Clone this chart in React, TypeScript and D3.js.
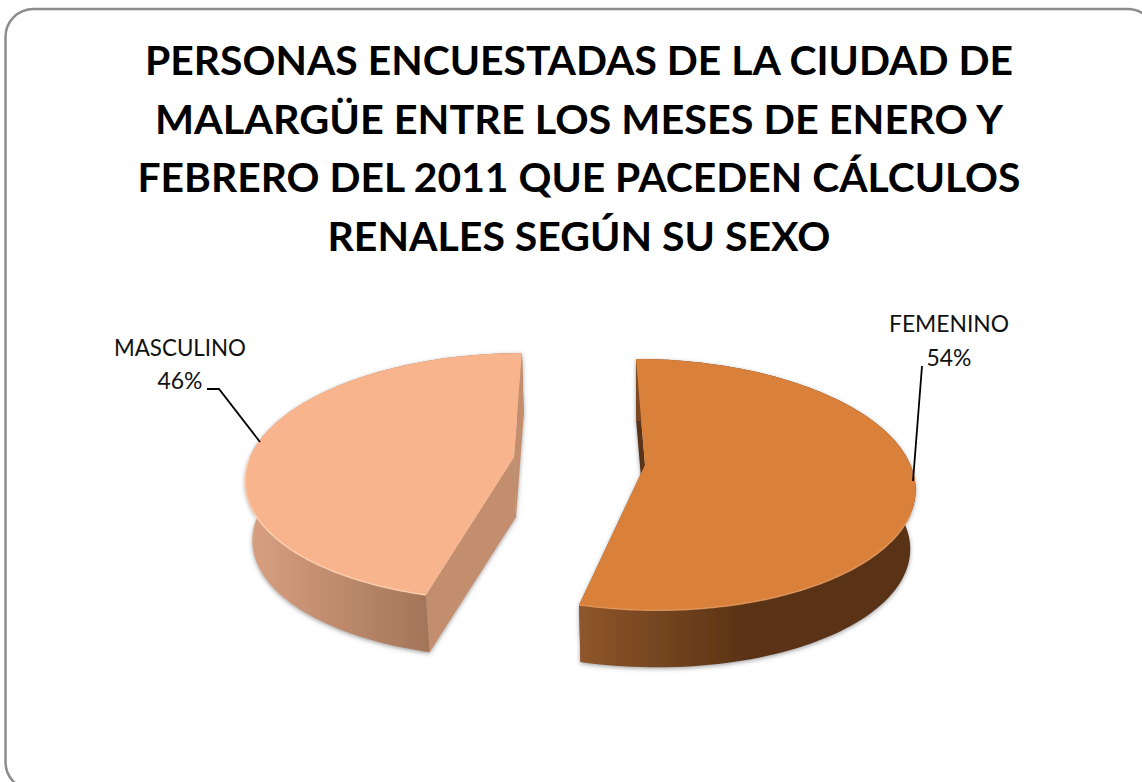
import React from "react";
import * as d3 from "d3";

const categories = ["FEMENINO", "MASCULINO"];
const percentages = [54, 46];
const titleLines = [
  "PERSONAS ENCUESTADAS DE LA CIUDAD DE",
  "MALARGÜE ENTRE LOS MESES DE ENERO Y",
  "FEBRERO DEL 2011 QUE PACEDEN CÁLCULOS",
  "RENALES SEGÚN SU SEXO",
];
const titleWidths = [868, 848, 883, 503];

const W = 1142;
const H = 782;
const FONT = "Lato, Carlito, 'Open Sans', sans-serif";

type Geom = { cx: number; cy: number; R: number; Ry: number; k: number; skew: number; bdx: number };
const geoms: Geom[] = [
  { cx: 645, cy: 465, R: 265.5, Ry: 122.6, k: 0.156, skew: 10.4, bdx: 0 },
  { cx: 514, cy: 457, R: 264, Ry: 120.5, k: 0.159, skew: -9.2, bdx: 2 },
];
const DEPTH = 60;
const BOTTOM_SCALE = 0.98;

const styles = [
  { top: "#D9803A", rim: "#E59A5E", wall: "#5A3315", face: "#8E562A", grad: "gradF", gx1: 580, gx2: 745, g1: "#8E562A", g2: "#5A3315", faceOnTop: false },
  { top: "#F7B48D", rim: "#FFD3B4", wall: "#C28E6E", face: "#C28E6E", grad: "gradM", gx1: 250, gx2: 432, g1: "#D8A080", g2: "#A27458", faceOnTop: true },
];

const labelLayout = [
  { x: 949, y1: 332, y2: 366, w1: 120, pct: 45, leader: [[922, 366], [913, 481]] },
  { x: 180, y1: 356, y2: 389, w1: 132, pct: 45, leader: [[207, 389], [219, 389], [260, 442]] },
];

function project(g: Geom, a: number, bottom = false): [number, number] {
  const u = Math.sin(a);
  const v = -Math.cos(a);
  const s = 1 / (1 - g.k * v);
  const f = bottom ? BOTTOM_SCALE : 1;
  const x = g.cx + (bottom ? g.bdx : 0) + f * (g.R * u + g.skew * v) * s;
  const y = g.cy + (bottom ? DEPTH : 0) + f * g.Ry * v * s;
  return [x, y];
}

function center(g: Geom, bottom = false): [number, number] {
  return [g.cx + (bottom ? g.bdx : 0), g.cy + (bottom ? DEPTH : 0)];
}

const pieGen = d3.pie<number>().sort(null);
const line = d3.line();

function arcPts(g: Geom, a0: number, a1: number, bottom = false) {
  return d3.range(0, 121).map((i) => project(g, a0 + ((a1 - a0) * i) / 120, bottom));
}

export default function App() {
  const arcs = pieGen(percentages);
  return (
    <svg width={W} height={H} style={{ position: "fixed", left: 0, top: 0, background: "#fff" }}>
      <defs>
        {styles.map((s) => (
          <linearGradient key={s.grad} id={s.grad} gradientUnits="userSpaceOnUse" x1={s.gx1} x2={s.gx2} y1={0} y2={0}>
            <stop offset="0" stopColor={s.g1} />
            <stop offset="1" stopColor={s.g2} />
          </linearGradient>
        ))}
        <filter id="shadow" x="-10%" y="-10%" width="120%" height="120%">
          <feDropShadow dx="0" dy="1.5" stdDeviation="2" floodColor="#555" floodOpacity="0.55" />
        </filter>
      </defs>
      <rect x={5.5} y={9} width={1150} height={781} rx={28} ry={28} fill="#fff" stroke="#8C8C8C" strokeWidth={2.5} />
      {titleLines.map((t, i) => (
        <text key={t} x={579} y={75 + i * 58.7} textAnchor="middle" fontFamily={FONT} fontWeight={700} fontSize={41} fill="#000" textLength={titleWidths[i]} lengthAdjust="spacingAndGlyphs">
          {t}
        </text>
      ))}
      {arcs.map((d, i) => {
        const g = geoms[i];
        const st = styles[i];
        const top = arcPts(g, d.startAngle, d.endAngle);
        const bot = arcPts(g, d.startAngle, d.endAngle, true);
        const outer = [...top, ...bot.slice().reverse()];
        const startFace = [project(g, d.startAngle), project(g, d.startAngle, true), center(g, true), center(g)];
        const endFace = [center(g), project(g, d.endAngle), project(g, d.endAngle, true), center(g, true)];
        const topFace = [center(g), ...top];
        const rimFrom = i === 0 ? Math.PI * 0.62 : d.startAngle;
        const rimTo = i === 0 ? d.endAngle : Math.PI * 1.5;
        const endPath = <path d={line(endFace) + "Z"} fill={st.face} />;
        return (
          <g key={categories[i]}>
            <g filter="url(#shadow)">
              <path d={line(startFace) + "Z"} fill={st.wall} />
              {!st.faceOnTop && endPath}
              <path d={line(outer) + "Z"} fill={`url(#${st.grad})`} />
              {st.faceOnTop && endPath}
            </g>
            <path d={line(topFace) + "Z"} fill={st.top} />
            <path d={line(arcPts(g, rimFrom, rimTo)) ?? ""} fill="none" stroke={st.rim} strokeWidth={1.5} strokeOpacity={0.8} />
          </g>
        );
      })}
      {categories.map((c, i) => {
        const l = labelLayout[i];
        return (
          <g key={c} fontFamily={FONT} fontSize={23.5} fill="#111">
            <text x={l.x} y={l.y1} textAnchor="middle" textLength={l.w1} lengthAdjust="spacingAndGlyphs">{c}</text>
            <text x={l.x} y={l.y2} textAnchor="middle" textLength={l.pct} lengthAdjust="spacingAndGlyphs">{`${percentages[i]}%`}</text>
            <path d={line(l.leader as [number, number][]) ?? ""} fill="none" stroke="#000" strokeWidth={1.8} />
          </g>
        );
      })}
    </svg>
  );
}
